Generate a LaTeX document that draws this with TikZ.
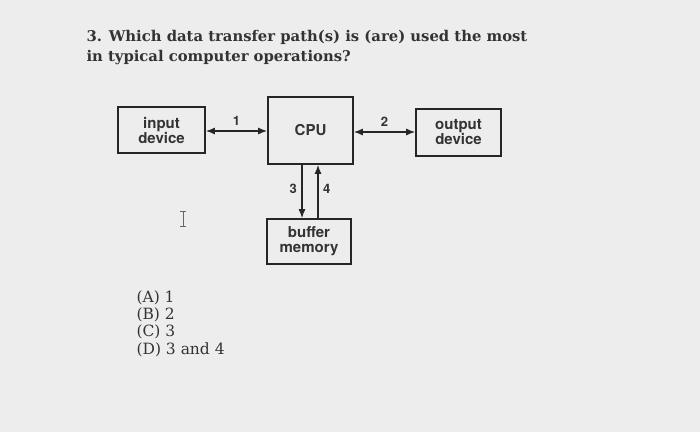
\documentclass[tikz,border=0pt]{standalone}
\usepackage{fontspec}
\setmainfont{DejaVu Serif}
\newfontfamily\heros{TeX Gyre Heros}
\usetikzlibrary{arrows.meta}
\begin{document}
\begin{tikzpicture}[x=1pt,y=-1pt,
  box/.style={draw=black!85,line width=1.6pt,inner sep=0pt,font=\heros\bfseries\fontsize{15}{15}\selectfont,align=center,text=black!80},
  conn/.style={line width=1.4pt,draw=black!85,>={Latex[length=9pt,width=7pt]}},
  lab/.style={font=\heros\bfseries\fontsize{13}{13}\selectfont,text=black!80}]
\fill[black!7] (0,0) rectangle (700,432);
\useasboundingbox (0,0) rectangle (700,432);
\node[anchor=west,font=\bfseries\fontsize{14.8}{15}\selectfont,text=black!80] (t1) at (83,37) {3. Which data transfer path(s) is (are) used the most};
\node[anchor=west,font=\bfseries\fontsize{14.8}{15}\selectfont,text=black!80] (t2) at (83,58) {in typical computer operations?};
\node[box,minimum width=87,minimum height=46] (in) at (161.5,130) {input\\device};
\node[box,minimum width=85,minimum height=67] (cpu) at (310.5,130.5) {CPU};
\node[box,minimum width=85,minimum height=47] (out) at (458.5,132.5) {output\\device};
\node[box,minimum width=84,minimum height=45] (buf) at (309,241.5) {buffer\\memory};
\draw[conn,<->] (in.east|-0,131) -- (cpu.west|-0,131) node[lab,midway,above=1pt] (l1) {1};
\draw[conn,<->] (cpu.east|-0,132) -- (out.west|-0,132) node[lab,midway,above=1pt] (l2) {2};
\draw[conn,->] (cpu.south-|302,0) -- (buf.north-|302,0) node[lab,pos=0.45,left=1pt] (l3) {3};
\draw[conn,->] (buf.north-|318,0) -- (cpu.south-|318,0) node[lab,pos=0.55,right=1pt] (l4) {4};
\draw[line width=0.8pt,black!60] (180,211) -- (186,211) (183,211) -- (183,226) (180,226) -- (186,226);
\foreach \t/\y [count=\i] in {{(A)\ 1}/298,{(B)\ 2}/315,{(C)\ 3}/332,{(D)\ 3 and 4}/350}
  \node[anchor=west,font=\fontsize{15.5}{15.5}\selectfont,text=black!80] (a\i) at (133,\y) {\t};
\end{tikzpicture}
\end{document}
